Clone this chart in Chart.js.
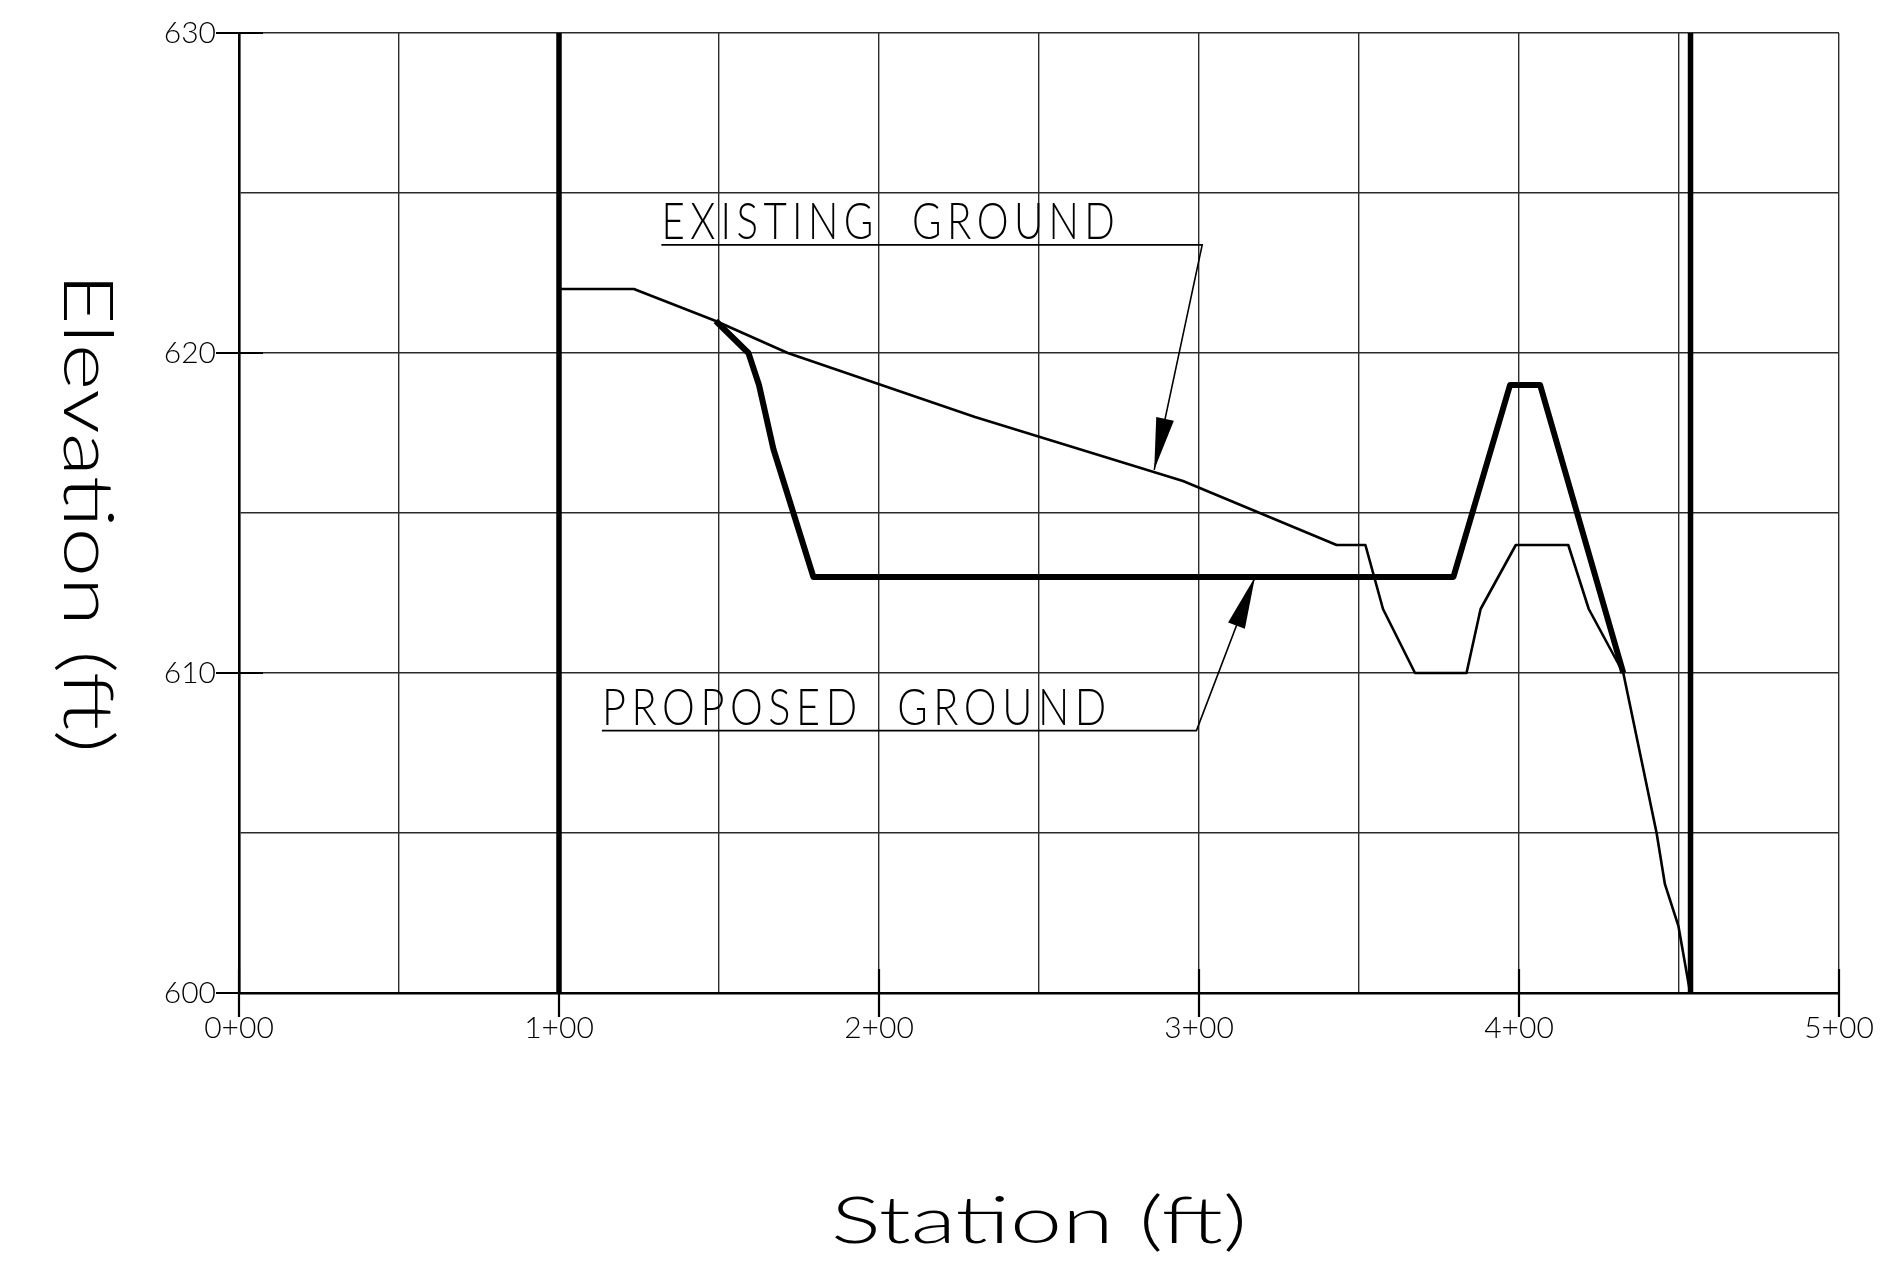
<!DOCTYPE html>
<html>
<head>
<meta charset="utf-8">
<title>Profile</title>
<script src="https://cdn.jsdelivr.net/npm/chart.js@4.4.1/dist/chart.umd.min.js"></script>
<style>
  html, body { margin: 0; padding: 0; background: #fff; }
  canvas { display: block; }
</style>
</head>
<body>
<canvas id="profileChart" width="1894" height="1261"></canvas>
<script>
// existing ground, station (ft) / elevation (ft)
const existingStation = [100, 123.4, 149, 171.5, 230, 295, 343, 352, 357.5, 367.5, 383.6, 388, 399, 415.4, 421.8, 432.6, 443, 445.6, 449.8, 453.5];
const existingElev = [622, 622, 621, 620, 618, 616, 614, 614, 612, 610, 610, 612, 614, 614, 612, 610, 605, 603.4, 602.1, 600];

// proposed ground
const proposedStation = [149, 159.2, 162.5, 167, 179.5, 379.5, 397.2, 406.6, 432.6];
const proposedElev = [621, 620, 619, 617, 613, 613, 619, 619, 610];

// section limits (heavy verticals)
const limitStations = [100, 453.6];
const elevRange = [600, 630];

const stationTickLabels = ['0+00', '1+00', '2+00', '3+00', '4+00', '5+00'];
const elevTickLabels = ['600', '610', '620', '630'];

// callout labels, in station / elevation units
const notes = [
    {text: 'EXISTING GROUND', from: 132, to: 301, elev: 623.38, span: 143.4, tip: [286, 616.35]},
    {text: 'PROPOSED GROUND', from: 113.4, to: 299.2, elev: 608.2, span: 159.4, tip: [317.5, 613]}
];

const FONT = 'Lato, "Open Sans", "DejaVu Sans", sans-serif';

function toPoints(xs, ys) {
    return xs.map((x, i) => ({x: x, y: ys[i]}));
}

function fitText(ctx, text, x, y, width, align) {
    const w = ctx.measureText(text).width;
    ctx.save();
    ctx.translate(x, y);
    ctx.scale(width / w, 1);
    ctx.textAlign = align;
    ctx.fillText(text, 0, 0);
    ctx.restore();
}

const limitSets = limitStations.map(s => ({
    data: [{x: s, y: elevRange[0]}, {x: s, y: elevRange[1]}],
    borderColor: '#000',
    borderWidth: 5.5,
    pointRadius: 0
}));

// ticks crossing the axes, callouts and axis titles
const cadExtras = {
    id: 'cadExtras',
    afterDraw(chart) {
        const ctx = chart.ctx;
        const xs = chart.scales.x;
        const ys = chart.scales.y;
        const area = chart.chartArea;

        ctx.save();
        ctx.strokeStyle = '#000';
        ctx.fillStyle = '#000';

        // major ticks
        ctx.lineWidth = 2.2;
        stationTickLabels.forEach((lbl, i) => {
            const px = xs.getPixelForValue(i * 100);
            ctx.beginPath();
            ctx.moveTo(px, area.bottom - 24);
            ctx.lineTo(px, area.bottom + 24);
            ctx.stroke();
        });
        elevTickLabels.forEach((lbl, i) => {
            const py = ys.getPixelForValue(elevRange[0] + i * 10);
            ctx.beginPath();
            ctx.moveTo(area.left - 23, py);
            ctx.lineTo(area.left + 24, py);
            ctx.stroke();
        });

        // callouts
        notes.forEach(n => {
            const x0 = xs.getPixelForValue(n.from);
            const x1 = xs.getPixelForValue(n.to);
            const y0 = ys.getPixelForValue(n.elev);
            const tx = xs.getPixelForValue(n.tip[0]);
            const ty = ys.getPixelForValue(n.tip[1]);

            ctx.lineWidth = 1.6;
            ctx.beginPath();
            ctx.moveTo(x0, y0);
            ctx.lineTo(x1, y0);
            ctx.lineTo(tx, ty);
            ctx.stroke();

            let dx = tx - x1, dy = ty - y0;
            const len = Math.hypot(dx, dy);
            dx /= len; dy /= len;
            const bx = tx - dx * 52, by = ty - dy * 52;
            ctx.beginPath();
            ctx.moveTo(tx, ty);
            ctx.lineTo(bx - dy * 9, by + dx * 9);
            ctx.lineTo(bx + dy * 9, by - dx * 9);
            ctx.closePath();
            ctx.fill();

            ctx.save();
            ctx.font = '300 52px ' + FONT;
            ctx.letterSpacing = '7px';
            ctx.wordSpacing = '22px';
            ctx.textBaseline = 'alphabetic';
            const w = xs.getPixelForValue(n.from + n.span) - x0;
            fitText(ctx, n.text, x0, y0 - 6, w, 'left');
            ctx.restore();
        });

        // axis titles
        ctx.textBaseline = 'alphabetic';
        ctx.font = '300 66px ' + FONT;
        fitText(ctx, 'Station (ft)', (area.left + area.right) / 2, area.bottom + 250, 416, 'center');

        ctx.save();
        ctx.translate(area.left - 175, (area.top + area.bottom) / 2);
        ctx.rotate(Math.PI / 2);
        ctx.font = '300 69px ' + FONT;
        fitText(ctx, 'Elevation (ft)', 0, 0, 480, 'center');
        ctx.restore();

        ctx.restore();
    }
};

const ctx = document.getElementById('profileChart').getContext('2d');
const chart = new Chart(ctx, {
    type: 'line',
    data: {
        datasets: [
            {
                label: 'Existing Ground',
                data: toPoints(existingStation, existingElev),
                borderColor: '#000',
                borderWidth: 2.6,
                pointRadius: 0,
                borderJoinStyle: 'round'
            },
            {
                label: 'Proposed Ground',
                data: toPoints(proposedStation, proposedElev),
                borderColor: '#000',
                borderWidth: 6,
                pointRadius: 0,
                borderJoinStyle: 'round'
            },
            ...limitSets
        ]
    },
    options: {
        responsive: false,
        animation: false,
        devicePixelRatio: 1,
        layout: {padding: {top: 33, right: 55, left: 0, bottom: 0}},
        plugins: {
            legend: {display: false},
            tooltip: {enabled: false}
        },
        scales: {
            x: {
                type: 'linear',
                min: 0,
                max: 500,
                afterFit: s => { s.height = 268; },
                grid: {color: '#2b2b2b', lineWidth: 1.4, drawTicks: false},
                border: {color: '#000', width: 2.6},
                ticks: {
                    stepSize: 50,
                    autoSkip: false,
                    maxRotation: 0,
                    padding: 20,
                    color: '#000',
                    font: {family: FONT, size: 30, weight: 300, lineHeight: 1},
                    callback: v => v % 100 === 0 ? stationTickLabels[v / 100] : ''
                }
            },
            y: {
                min: elevRange[0],
                max: elevRange[1],
                afterFit: s => { s.width = 239; },
                grid: {color: '#2b2b2b', lineWidth: 1.4, drawTicks: false},
                border: {color: '#000', width: 2.6},
                ticks: {
                    stepSize: 5,
                    autoSkip: false,
                    padding: 23,
                    color: '#000',
                    font: {family: FONT, size: 30, weight: 300, lineHeight: 0.6},
                    callback: v => v % 10 === 0 ? elevTickLabels[(v - elevRange[0]) / 10] : ''
                }
            }
        }
    },
    plugins: [cadExtras]
});
</script>
</body>
</html>
